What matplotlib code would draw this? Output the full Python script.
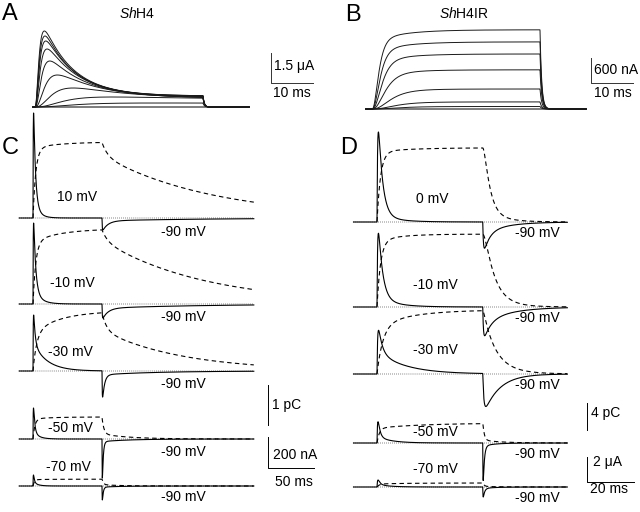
import numpy as np
import matplotlib
matplotlib.use("Agg")
import matplotlib.pyplot as plt

plt.rcParams['font.family'] = ['Liberation Sans', 'DejaVu Sans']
plt.rcParams['mathtext.fontset'] = 'custom'
plt.rcParams['mathtext.it'] = 'Liberation Sans:italic'
plt.rcParams['mathtext.rm'] = 'Liberation Sans'

W, H = 640, 512
fig = plt.figure(figsize=(6.4, 5.12), dpi=100)

# ---------------- data ----------------
# Panel A: ShH4 ionic currents (uA), 40 ms steps
A_STEP = 40.0
A_PEAK = [3.8, 3.55, 3.3, 2.9, 2.3, 1.6, 0.95, 0.5, 0.2]
A_END = [0.55, 0.55, 0.52, 0.5, 0.46, 0.42, 0.42, 0.38, 0.17]
A_TAU_ACT = [0.6, 0.65, 0.7, 0.8, 1.0, 1.6, 2.8, 4.5, 6.0]
A_TAU_INACT = [7.0, 7.0, 7.5, 8.0, 9.0, 11.0, 14.0, 25.0, 50.0]

# Panel B: ShH4IR ionic currents (uA), 40 ms steps
B_STEP = 40.0
B_SS = [1.9, 1.61, 1.32, 0.94, 0.48, 0.17, 0.06]
B_TAU_ACT = [1.0, 1.2, 1.5, 2.0, 2.8, 3.5, 4.0]
B_CREEP = 0.15
B_CREEP_TAU = 7.0

# Panel C: ShH4 gating currents (nA) and charge (pC), 75 ms steps
C_STEP = 75.0
C_LABELS = ['10 mV', '-10 mV', '-30 mV', '-50 mV', '-70 mV']
C_ON_PEAK = [677, 522, 361, 200, 71]
C_ON_TAU = [2.0, 2.2, 1.6, 1.3, 1.0]
C_ON_SLOWFRAC = [0.10, 0.12, 0.35, 0.15, 0.2]
C_ON_SLOWTAU = [6.0, 8.0, 15.0, 6.0, 5.0]
C_OFF_DIP = [77, 90, 168, 252, 90]
C_OFF_RISE = [0.3, 0.3, 0.3, 0.2, 0.2]
C_OFF_TAU = [6.0, 6.0, 2.2, 1.0, 1.0]
C_OFF_SLOWFRAC = [0.2, 0.26, 0.1, 0.04, 0.05]
C_OFF_SLOWTAU = [120.0, 111.0, 60.0, 30.0, 20.0]
C_Q_FAST = [1.75, 1.55, 0.95, 0.50, 0.16]
C_Q_FAST_TAU = [3.0, 3.0, 4.0, 2.0, 1.5]
C_Q_SLOW = [0.15, 0.33, 0.55, 0.05, 0.01]
C_Q_SLOW_TAU = [30.0, 30.0, 30.0, 20.0, 20.0]
C_QOFF_RISE = [0.0, 0.0, 0.0, 0.0, 0.0]
C_QOFF_FASTFRAC = [0.17, 0.14, 0.30, 0.77, 0.8]
C_QOFF_FAST_TAU = [6.0, 6.0, 5.0, 2.0, 1.5]
C_QOFF_SLOW_TAU = [120.0, 111.0, 87.0, 30.0, 20.0]

# Panel D: ShH4IR gating currents (uA) and charge (pC), 45 ms steps
D_STEP = 45.0
D_LABELS = ['0 mV', '-10 mV', '-30 mV', '-50 mV', '-70 mV']
D_ON_PEAK = [7.2, 5.9, 3.5, 1.7, 0.56]
D_ON_TAU = [1.8, 1.8, 1.5, 0.8, 0.8]
D_ON_SLOWFRAC = [0.05, 0.08, 0.35, 0.15, 0.2]
D_ON_SLOWTAU = [8.0, 8.0, 12.0, 6.0, 5.0]
D_OFF_DIP = [2.1, 2.3, 2.6, 3.0, 0.8]
D_OFF_RISE = [0.3, 0.3, 0.5, 0.1, 0.1]
D_OFF_TAU = [2.5, 3.0, 6.5, 0.5, 0.6]
D_OFF_SLOWFRAC = [0.3, 0.4, 0.0, 0.05, 0.1]
D_OFF_SLOWTAU = [10.0, 12.0, 10.0, 5.0, 5.0]
D_Q_FAST = [10.4, 9.8, 7.1, 2.2, 0.45]
D_Q_FAST_TAU = [1.5, 1.5, 2.5, 1.0, 1.0]
D_Q_SLOW = [0.6, 1.0, 2.4, 0.75, 0.15]
D_Q_SLOW_TAU = [15.0, 10.0, 15.0, 20.0, 15.0]
D_QOFF_RISE = [1.2, 1.5, 0.3, 0.1, 0.1]
D_QOFF_FASTFRAC = [0.88, 0.85, 0.85, 0.85, 0.85]
D_QOFF_FAST_TAU = [2.5, 4.0, 5.0, 0.6, 0.6]
D_QOFF_SLOW_TAU = [8.0, 8.0, 10.0, 8.0, 8.0]

# ---------------- layout (pixels) ----------------
def panel_axes(ox, oy, sx, sy):
    """full-figure transparent axes; (ox, oy) pixel of data origin,
    sx, sy pixels per data unit"""
    ax = fig.add_axes([0, 0, 1, 1])
    ax.set_xlim(-ox / sx, (W - ox) / sx)
    ax.set_ylim((oy - H) / sy, oy / sy)
    ax.set_facecolor('none')
    ax.axis('off')
    return ax

def ftext(x, y, s, size=10, ha='left', va='center', **kw):
    fig.text(x / W, 1 - y / H, s, fontsize=size, ha=ha, va=va, **kw)

# ---------------- models ----------------
def inact_trace(t, peak, end, tm, th, T):
    tt = np.clip(t, 0, None)
    m = 1 - np.exp(-tt / tm)
    on = (t >= 0) & (t <= T)
    G = peak
    for _ in range(30):
        r = min(end / G, 1.0)
        shape = m ** 3 * (r + (1 - r) * np.exp(-tt / th))
        G = peak / shape[on].max()
    I = G * shape
    IT = G * (1 - np.exp(-T / tm)) ** 3 * (r + (1 - r) * np.exp(-T / th))
    post = t > T
    I[post] = IT * np.exp(-(t[post] - T) / 0.3)
    I[t < 0] = 0
    return I

def noninact_trace(t, ss, tm, creep, ctau, T):
    tt = np.clip(t, 0, None)
    m = 1 - np.exp(-tt / tm)
    norm = 1 - creep * np.exp(-T / ctau)
    I = ss * m ** 3 * (1 - creep * np.exp(-tt / ctau)) / norm
    post = t > T
    I[post] = ss * np.exp(-(t[post] - T) / 0.4)
    I[t < 0] = 0
    return I

def transient(t, amp, rise, tau, sfrac, stau):
    tt = np.clip(t, 0, None)
    s = (1 - np.exp(-tt / rise)) * ((1 - sfrac) * np.exp(-tt / tau) + sfrac * np.exp(-tt / stau))
    s = s / s.max()
    s[t < 0] = 0
    return amp * s

def delayed_decay(t, rise, tau):
    if rise <= 0:
        return np.exp(-t / tau)
    tc = 1.0 / (1.0 / rise + 1.0 / tau)
    return (tau * np.exp(-t / tau) - tc * np.exp(-t / tc)) / (tau - tc)

def gating_row(t, T, on_peak, on_tau, on_sf, on_st, off_dip, off_rise, off_tau, off_sf, off_st,
               qf, qft, qs, qst, qoff_rise, qoff_ff, qoff_ft, qoff_st, on_rise):
    I = transient(t, on_peak, on_rise, on_tau, on_sf, on_st) * (t <= T)
    toff = t - T
    tf = np.linspace(0, max(toff.max(), 1), 4000)
    offshape = transient(tf, 1.0, off_rise, off_tau, off_sf, off_st)
    I_off = -off_dip * np.interp(toff, tf, offshape, left=0.0)
    I = I + (t > T) * I_off
    tt = np.clip(t, 0, None)
    Q = qf * (1 - np.exp(-tt / qft)) + qs * (1 - np.exp(-tt / qst))
    QT = qf * (1 - np.exp(-T / qft)) + qs * (1 - np.exp(-T / qst))
    post = t > T
    tp = toff[post]
    Q[post] = QT * (qoff_ff * delayed_decay(tp, qoff_rise, qoff_ft)
                    + (1 - qoff_ff) * delayed_decay(tp, qoff_rise, qoff_st))
    Q[t < 0] = 0
    return I, Q

LW = 0.8
TRC = '#1a1a1a'

# ================= Panel A =================
axA = panel_axes(35, 107, 4.2, 20.0)
tA = np.linspace(-0.5, 51, 3000)
for p, e, tm, th in zip(A_PEAK, A_END, A_TAU_ACT, A_TAU_INACT):
    axA.plot(tA, inact_trace(tA, p, e, tm, th, A_STEP), color=TRC, lw=0.7)
axA.plot(tA, np.zeros_like(tA), color=TRC, lw=0.8)
# scale bars 1.5 uA, 10 ms
xa, ya = (271 - 35) / 4.2, (107 - 83) / 20.0
axA.plot([xa, xa, xa + 10], [ya + 1.5, ya, ya], color='#333333', lw=0.7)
ftext(274, 66, '1.5 μA')
ftext(273, 93, '10 ms')
ftext(10, 14, 'A', size=17, ha='center')
ftext(137, 13, r'$\mathit{Sh}$H4', size=10, ha='center')

# ================= Panel B =================
axB = panel_axes(372, 109, 4.2, 1 / 0.024)
tB = np.linspace(-1.5, 51, 3000)
for ss, tm in zip(B_SS, B_TAU_ACT):
    axB.plot(tB, noninact_trace(tB, ss, tm, B_CREEP, B_CREEP_TAU, B_STEP), color=TRC, lw=0.7)
axB.plot(tB, np.zeros_like(tB), color=TRC, lw=0.8)
xb, yb = (591 - 372) / 4.2, (109 - 83) * 0.024
axB.plot([xb, xb, xb + 10], [yb + 0.6, yb, yb], color='#333333', lw=0.7)
ftext(594, 70, '600 nA')
ftext(594, 93, '10 ms')
ftext(353, 15, 'B', size=17, ha='center')
ftext(464, 13, r'$\mathit{Sh}$H4IR', size=10, ha='center')

# ================= Panel C =================
C_BASE_PX = [218, 304, 371, 439, 486]
sxC, syC = 0.92, 1 / 6.45          # px per ms, px per nA
qC = 40.0 / syC                    # nA-equivalent per pC (1 pC bar)
axC = panel_axes(33, 486, sxC, syC)
tC = np.linspace(-15, 240, 6000)
for i in range(5):
    off = (486 - C_BASE_PX[i]) / syC
    I, Q = gating_row(tC, C_STEP, C_ON_PEAK[i], C_ON_TAU[i], C_ON_SLOWFRAC[i], C_ON_SLOWTAU[i],
                      C_OFF_DIP[i], C_OFF_RISE[i], C_OFF_TAU[i], C_OFF_SLOWFRAC[i], C_OFF_SLOWTAU[i],
                      C_Q_FAST[i], C_Q_FAST_TAU[i], C_Q_SLOW[i], C_Q_SLOW_TAU[i],
                      C_QOFF_RISE[i], C_QOFF_FASTFRAC[i], C_QOFF_FAST_TAU[i], C_QOFF_SLOW_TAU[i], 0.3)
    axC.plot(tC, off + np.zeros_like(tC), color='#333333', lw=0.7, ls=(0, (0.6, 1.5)))
    qm = tC >= 0
    axC.plot(tC[qm], off + Q[qm] * qC, color='black', lw=LW, ls=(0, (4, 3)))
    axC.plot(tC, off + I, color='black', lw=LW)
xc = (268 - 33) / sxC
yc = (486 - 468) / syC
axC.plot([xc, xc, xc + 50], [yc + 200, yc, yc], color='black', lw=0.7)
yq = (486 - 425) / syC
axC.plot([xc, xc], [yq, yq + 1.0 * qC], color='black', lw=0.7)
ftext(272, 405, '1 pC')
ftext(273, 455, '200 nA')
ftext(275, 482, '50 ms')
ftext(10, 148, 'C', size=17, ha='center')
C_LAB_PX = [(77, 197), (72, 283), (70, 352), (70, 428), (68, 467)]
C_V90_PX = [232, 317, 384, 452, 497]
for (x, y), s, y9 in zip(C_LAB_PX, C_LABELS, C_V90_PX):
    ftext(x, y, s, size=10, ha='center')
    ftext(183, y9, '-90 mV', size=10, ha='center')

# ================= Panel D =================
D_BASE_PX = [222, 307, 374, 443, 487]
sxD, syD = 2.35, 25.0 / 2.0        # px per ms, px per uA
qD = (27.0 / 4.0) / syD            # uA-equivalent per pC
axD = panel_axes(377, 487, sxD, syD)
tD = np.linspace(-10, 81, 6000)
for i in range(5):
    off = (487 - D_BASE_PX[i]) / syD
    I, Q = gating_row(tD, D_STEP, D_ON_PEAK[i], D_ON_TAU[i], D_ON_SLOWFRAC[i], D_ON_SLOWTAU[i],
                      D_OFF_DIP[i], D_OFF_RISE[i], D_OFF_TAU[i], D_OFF_SLOWFRAC[i], D_OFF_SLOWTAU[i],
                      D_Q_FAST[i], D_Q_FAST_TAU[i], D_Q_SLOW[i], D_Q_SLOW_TAU[i],
                      D_QOFF_RISE[i], D_QOFF_FASTFRAC[i], D_QOFF_FAST_TAU[i], D_QOFF_SLOW_TAU[i], 0.3)
    axD.plot(tD, off + np.zeros_like(tD), color='#333333', lw=0.7, ls=(0, (0.6, 1.5)))
    qm = tD >= 0
    axD.plot(tD[qm], off + Q[qm] * qD, color='black', lw=LW, ls=(0, (4, 3)))
    axD.plot(tD, off + I, color='black', lw=LW)
xd = (587 - 377) / sxD
yd = (487 - 482) / syD
axD.plot([xd, xd, xd + 20], [yd + 2.0, yd, yd], color='black', lw=0.7)
yq = (487 - 430) / syD
axD.plot([xd, xd], [yq, yq + 4.0 * qD], color='black', lw=0.7)
ftext(591, 413, '4 pC')
ftext(593, 462, '2 μA')
ftext(590, 489, '20 ms')
ftext(349, 148, 'D', size=17, ha='center')
D_LAB_PX = [(432, 199), (435, 285), (435, 350), (435, 432), (435, 469)]
D_V90_PX = [233, 318, 385, 454, 498]
for (x, y), s, y9 in zip(D_LAB_PX, D_LABELS, D_V90_PX):
    ftext(x, y, s, size=10, ha='center')
    ftext(537, y9, '-90 mV', size=10, ha='center')

fig.savefig('out.png', dpi=100, facecolor='white')
